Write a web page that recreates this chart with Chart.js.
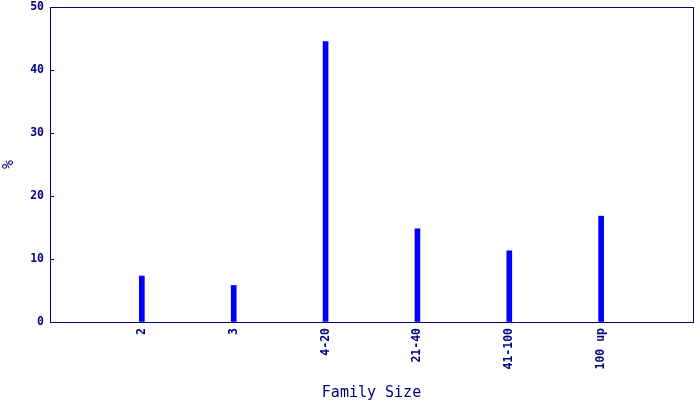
<!DOCTYPE html>
<html>
<head>
<meta charset="utf-8">
<script src="https://cdn.jsdelivr.net/npm/chart.js@4"></script>
<style>
  html, body { margin: 0; padding: 0; background: #fff; }
  #wrap { width: 700px; height: 400px; }
</style>
</head>
<body>
<div id="wrap"><canvas id="c" width="700" height="400"></canvas></div>
<script>
// family size groups (blank slots at both ends keep the axis padded)
const categories = ['', '2', '3', '4-20', '21-40', '41-100', '100 up', ''];
const percent = [null, 7.3, 5.8, 44.5, 14.8, 11.3, 16.8, null];
const yTicks = [0, 10, 20, 30, 40, 50];

const navy = '#000080';
const tickFont = { family: 'DejaVu Sans Mono', size: 11.5, weight: 'bold' };
const titleFont = { family: 'DejaVu Sans Mono', size: 15, lineHeight: 1 };

// no extra room for overhanging labels, the layout padding does it
function noPad(s) {
  s.paddingTop = 0; s.paddingBottom = 0;
  s.paddingLeft = 0; s.paddingRight = 0;
}

// box round the plot + short inward ticks on the y axis
const frame = {
  id: 'frame',
  afterDraw(chart) {
    const { ctx, chartArea: a, scales } = chart;
    ctx.save();
    ctx.strokeStyle = navy;
    ctx.lineWidth = 1;
    ctx.strokeRect(Math.round(a.left) + 0.5, Math.round(a.top) + 0.5,
      Math.round(a.right - a.left), Math.round(a.bottom - a.top));
    ctx.beginPath();
    yTicks.forEach(v => {
      const y = Math.round(scales.y.getPixelForValue(v)) + 0.5;
      ctx.moveTo(a.left, y);
      ctx.lineTo(a.left + 4, y);
    });
    ctx.stroke();
    ctx.restore();
  }
};

new Chart(document.getElementById('c'), {
  type: 'bar',
  data: {
    labels: categories,
    datasets: [{
      label: '%',
      data: percent,
      backgroundColor: '#0000ff',
      borderWidth: 0,
      barThickness: 5
    }]
  },
  options: {
    responsive: false,
    animation: false,
    layout: { padding: { top: 7, right: 7, left: 0, bottom: 0 } },
    plugins: { legend: { display: false }, tooltip: { enabled: false } },
    scales: {
      x: {
        offset: false,
        grid: { drawOnChartArea: false, drawTicks: false },
        border: { display: true, color: navy },
        ticks: {
          color: navy, font: tickFont, autoSkip: false,
          minRotation: 90, maxRotation: 90, padding: 6
        },
        title: { display: true, text: 'Family Size', color: navy, font: titleFont, padding: { top: 0, bottom: -1 } },
        afterFit(s) { s.height = 78; noPad(s); }
      },
      y: {
        min: 0, max: 50,
        grid: { drawOnChartArea: false, drawTicks: false },
        border: { display: true, color: navy },
        ticks: { stepSize: 10, color: navy, font: tickFont, padding: 6 },
        title: { display: true, text: '%', color: navy, font: titleFont, padding: { top: 2, bottom: 0 } },
        afterFit(s) { s.width = 50; noPad(s); }
      }
    }
  },
  plugins: [frame]
});
</script>
</body>
</html>
